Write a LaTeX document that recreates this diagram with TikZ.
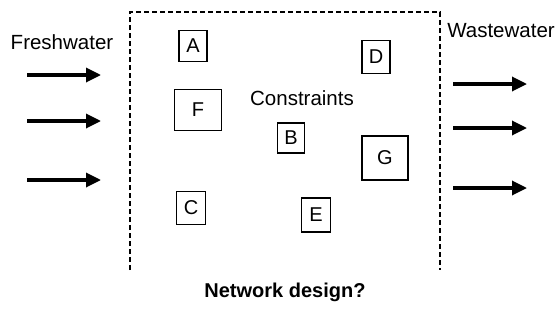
\documentclass[tikz,border=0pt]{standalone}
\usepackage{fontspec}
\setmainfont{Liberation Sans}
\usetikzlibrary{arrows.meta}
\begin{document}
\begin{tikzpicture}[x=1pt,y=-1pt,
  unit/.style={draw,line width=1.1pt,inner sep=0pt,font=\fontsize{20}{22}\selectfont},
  lbl/.style={font=\fontsize{20.5}{22}\selectfont,inner sep=0pt},
  flow/.style={line width=3.3pt,-{Triangle[length=15pt,width=14pt]}},
  bound/.style={line width=1.1pt,dash pattern=on 5pt off 3pt}]
\useasboundingbox (0,0) rectangle (558,322);
\node[lbl] (fresh) at (62,42) {Freshwater};
\node[lbl] (waste) at (501,31) {Wastewater};
\node[lbl] (cons) at (302,98) {Constraints};
\node[lbl,font=\fontsize{20}{22}\selectfont\bfseries] (net) at (285,292) {Network design?};
\node[unit,minimum width=28pt,minimum height=31pt] (A) at (193,46) {A};
\node[unit,minimum width=47pt,minimum height=41pt] (F) at (198,110) {F};
\node[unit,minimum width=28pt,minimum height=33pt] (D) at (376,57) {D};
\node[unit,minimum width=27pt,minimum height=30pt] (B) at (291,138) {B};
\node[unit,minimum width=46pt,minimum height=44pt] (G) at (385,158) {G};
\node[unit,minimum width=29pt,minimum height=33pt] (C) at (191,208) {C};
\node[unit,minimum width=29pt,minimum height=34pt] (E) at (316,215) {E};
\coordinate (bl) at (130,270);
\coordinate (tl) at (130,12);
\coordinate (tr) at (440,12);
\coordinate (br) at (440,270);
\draw[bound] (bl) -- (tl) -- (tr) -- (br);
\foreach \y [count=\i] in {75,121,180}{
  \coordinate (fs\i) at (27,\y);
  \coordinate (fe\i) at (101,\y);
  \draw[flow] (fs\i) -- (fe\i);
}
\foreach \y [count=\i] in {84,128,188}{
  \coordinate (ws\i) at (453,\y);
  \coordinate (we\i) at (527,\y);
  \draw[flow] (ws\i) -- (we\i);
}
\end{tikzpicture}
\end{document}
